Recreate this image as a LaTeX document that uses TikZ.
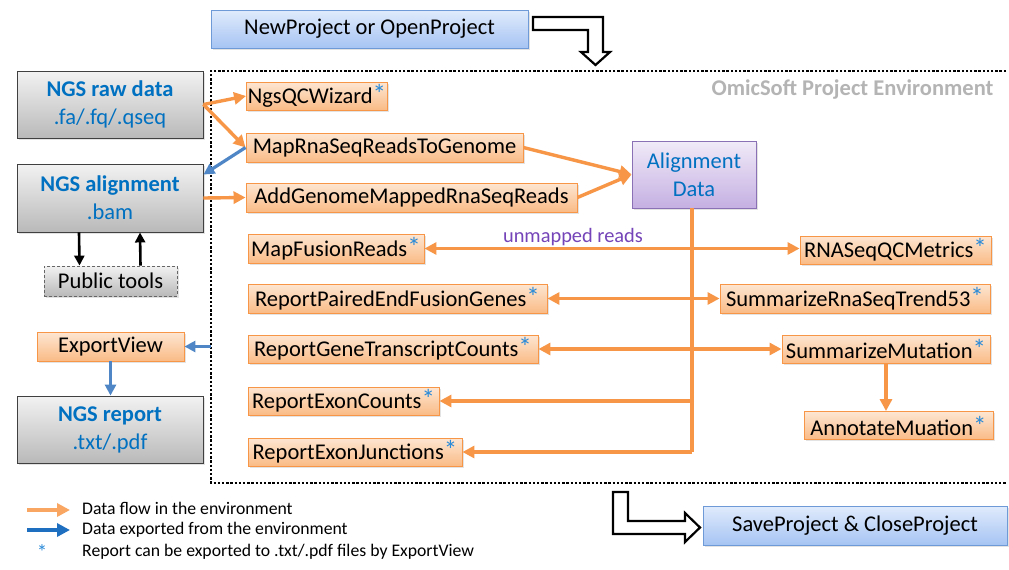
\documentclass[tikz,border=0pt]{standalone}
\usepackage{fontspec}
\setmainfont{Carlito}
\usetikzlibrary{arrows.meta,shadows,calc}

\definecolor{orLine}{HTML}{F79646}
\definecolor{orTop}{HTML}{FDE6D2}
\definecolor{orBot}{HTML}{FABB86}
\definecolor{gyTop}{HTML}{F2F2F2}
\definecolor{gyBot}{HTML}{B9B9B9}
\definecolor{gyLine}{HTML}{404040}
\definecolor{blTop}{HTML}{E0EBFC}
\definecolor{blBot}{HTML}{A6C4F3}
\definecolor{blLine}{HTML}{6F9AD8}
\definecolor{puTop}{HTML}{F0EAF8}
\definecolor{puBot}{HTML}{C5B0E2}
\definecolor{puLine}{HTML}{8A70B5}
\definecolor{txtBlue}{HTML}{0070C0}
\definecolor{expBlue}{HTML}{4F86C6}
\definecolor{legBlue}{HTML}{1F6FC0}
\definecolor{starBlue}{HTML}{2A8AD8}
\definecolor{unmapped}{HTML}{7444B8}
\definecolor{envGray}{HTML}{B4B4B4}

% blue asterisk marking steps whose report can be exported
\newcommand{\rep}{\textcolor{starBlue}{\fontsize{27}{28}\selectfont *}}

\begin{document}
\begin{tikzpicture}[x=1pt,y=-1pt,
  base/.style={font=\fontsize{22.5}{28}\selectfont, inner sep=0pt, align=center},
  shade/.style={drop shadow={opacity=0.22,shadow xshift=1.5pt,shadow yshift=-1.8pt}},
  opbox/.style={base, shade, draw=orLine, line width=0.9pt, top color=orTop, bottom color=orBot},
  databox/.style={base, shade, draw=gyLine, line width=0.9pt, top color=gyTop, bottom color=gyBot, text=txtBlue},
  projbox/.style={base, shade, draw=blLine, line width=0.9pt, top color=blTop, bottom color=blBot},
  flow/.style={draw=orLine, line width=3.4pt, -{Triangle[length=12pt,width=12pt]}},
  flowboth/.style={draw=orLine, line width=3.4pt, {Triangle[length=12pt,width=12pt]}-{Triangle[length=12pt,width=12pt]}},
  export/.style={draw=expBlue, line width=3.2pt, -{Triangle[length=11pt,width=11pt]}},
  tool/.style={draw=black, line width=2.6pt, -{Triangle[length=10pt,width=10pt]}},
  envline/.style={draw=black, line width=2.8pt, dash pattern=on 2.4pt off 1.8pt},
  hollow/.style={draw=black, fill=white, line width=2.2pt, line join=miter},
  legend/.style={font=\fontsize{17.7}{20}\selectfont, inner sep=0pt, anchor=west}
]
\useasboundingbox (0,0) rectangle (1009,570);
\fill[white] (0,0) rectangle (1009,570);

% project environment frame
\draw[envline] (1006,71) -- (211,71) -- (211,483) -- (1006,483);
\node[base, font=\fontsize{22.5}{28}\selectfont\bfseries, text=envGray] (envtitle) at (852.5,90) {OmicSoft Project Environment};

% project commands and hollow flow arrows
\node[projbox, minimum width=317pt, minimum height=38pt] (open) at (369.5,29) {NewProject or OpenProject};
\node[projbox, minimum width=304pt, minimum height=39pt] (save) at (855,525.5) {SaveProject \& CloseProject};
\draw[hollow] (533,17) -- (603,17) -- (603,52) -- (610,52) -- (595.5,65) -- (581,52) -- (588,52) -- (588,30) -- (533,30) -- cycle;
\draw[hollow] (613,492) -- (628,492) -- (628,521) -- (685,521) -- (685,513) -- (700,527.5) -- (685,542) -- (685,534) -- (613,534) -- cycle;

% external data
\node[databox, minimum width=186pt, minimum height=67pt] (raw) at (110,104.5) {\textbf{NGS raw data}\\.fa/.fq/.qseq};
\node[databox, minimum width=186pt, minimum height=68pt] (ngsaln) at (110,198) {\textbf{NGS alignment}\\.bam};
\node[base, shade, draw=gyLine!80, line width=0.8pt, dash pattern=on 3pt off 2pt, top color=gyTop, bottom color=gyBot, minimum width=133pt, minimum height=30pt] (pub) at (110.5,281) {Public tools};
\node[opbox, minimum width=147pt, minimum height=29pt] (expview) at (110.5,346.5) {ExportView};
\node[databox, minimum width=186pt, minimum height=67pt] (report) at (110,429.5) {\textbf{NGS report}\\.txt/.pdf};

% analysis steps inside the environment
\node[opbox, minimum width=141pt, minimum height=28pt] (qcwiz) at (317,96) {NgsQCWizard\rep};
\node[opbox, minimum width=277pt, minimum height=29pt] (maprna) at (384.5,147.5) {MapRnaSeqReadsToGenome};
\node[opbox, minimum width=331pt, minimum height=29pt] (addgen) at (411.5,197.5) {AddGenomeMappedRnaSeqReads};
\node[opbox, minimum width=176pt, minimum height=29pt] (fusion) at (336,248.5) {MapFusionReads\rep};
\node[opbox, minimum width=299pt, minimum height=29pt] (paired) at (397.5,298.5) {ReportPairedEndFusionGenes\rep};
\node[opbox, minimum width=290pt, minimum height=28pt] (genecnt) at (393,349) {ReportGeneTranscriptCounts\rep};
\node[opbox, minimum width=191pt, minimum height=28pt] (exoncnt) at (343.5,401) {ReportExonCounts\rep};
\node[opbox, minimum width=214pt, minimum height=28pt] (exonjct) at (355,452) {ReportExonJunctions\rep};
\node[opbox, minimum width=191pt, minimum height=28pt] (qcmet) at (895.5,250) {RNASeqQCMetrics\rep};
\node[opbox, minimum width=270pt, minimum height=29pt] (trend) at (855,298.5) {SummarizeRnaSeqTrend53\rep};
\node[opbox, minimum width=208pt, minimum height=28pt] (summut) at (886,349) {SummarizeMutation\rep};
\node[opbox, minimum width=189pt, minimum height=28pt] (annmut) at (898.5,425.5) {AnnotateMuation\rep};
\node[base, shade, draw=puLine, line width=0.9pt, top color=puTop, bottom color=puBot, text=txtBlue, minimum width=124pt, minimum height=67pt] (aln) at (694,174.5) {Alignment\\Data};

% connectors
\draw[flow] (raw.east) -- (qcwiz.west);
\draw[flow] (raw.east) -- (maprna.west);
\draw[export] (maprna.west) -- ($(ngsaln.north east)+(0,11)$);
\draw[flow] (ngsaln.east) -- (addgen.west);
\draw[tool] ([xshift=-31pt]ngsaln.south) -- ([xshift=-31pt]pub.north);
\draw[tool] ([xshift=30pt]pub.north) -- ([xshift=30pt]ngsaln.south);

\draw[flow] (maprna.east) -- (aln.west);
\draw[flow] (addgen.east) -- (aln.west);

\coordinate (trunkEnd) at ($(aln.south |- exonjct.east)+(-2,0)$);
\draw[draw=orLine, line width=3.4pt] ($(aln.south)+(-2,0)$) -- (trunkEnd);
\draw[flow] (trunkEnd) -- (exonjct.east);
\draw[flow] (trunkEnd |- exoncnt.east) -- (exoncnt.east);
\draw[flowboth] (fusion.east) -- (fusion.east -| qcmet.west);
\draw[flowboth] (paired.east) -- (paired.east -| trend.west);
\draw[flowboth] (genecnt.east) -- (genecnt.east -| summut.west);
\node[font=\fontsize{20.4}{24}\selectfont, text=unmapped, inner sep=0pt] (unmlbl) at (573,237) {unmapped reads};
\draw[flow] (summut.south) -- (summut.south |- annmut.north);

\coordinate (envLeft) at (211,346.5);
\draw[export] (envLeft) -- (expview.east);
\draw[export] (expview.south) -- (expview.south |- report.north);

% legend
\coordinate (lgA1) at (27,510); \coordinate (lgA2) at (70,510);
\coordinate (lgB1) at (27,530); \coordinate (lgB2) at (70,530);
\draw[draw=orLine!85, line width=4.5pt, -{Triangle[length=13pt,width=13pt]}] (lgA1) -- (lgA2);
\draw[draw=legBlue, line width=4.5pt, -{Triangle[length=13pt,width=13pt]}] (lgB1) -- (lgB2);
\node[legend] (lgAt) at (82,508) {Data flow in the environment};
\node[legend] (lgBt) at (82,530) {Data exported from the environment};
\node[font=\fontsize{21}{22}\selectfont, text=starBlue, inner sep=0pt] (lgStar) at (42,552) {*};
\node[legend] (lgCt) at (82,552) {Report can be exported to .txt/.pdf files by ExportView};
\end{tikzpicture}
\end{document}
